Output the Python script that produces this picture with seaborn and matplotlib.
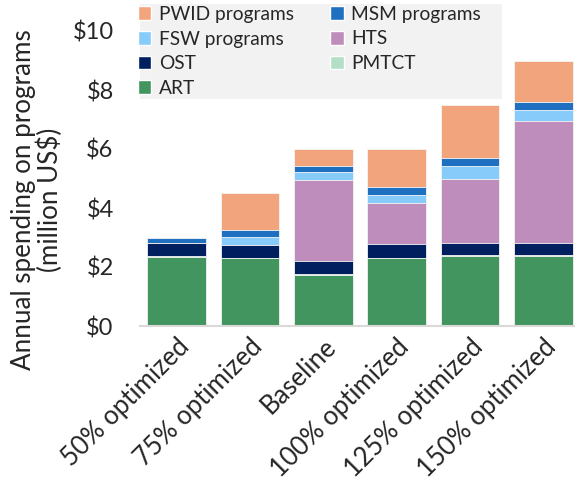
import numpy as np
import pandas as pd
import seaborn as sns
import matplotlib.pyplot as plt
from matplotlib.patches import Patch, Rectangle

scenarios = ['50% optimized', '75% optimized', 'Baseline',
             '100% optimized', '125% optimized', '150% optimized']

# spending per program, million US$ (bottom to top of the stack)
art = [2.33, 2.29, 1.72, 2.29, 2.36, 2.36]
pmtct = [0.03, 0.03, 0.03, 0.03, 0.03, 0.03]
ost = [0.44, 0.44, 0.44, 0.47, 0.44, 0.44]
hts = [0.0, 0.0, 2.77, 1.39, 2.15, 4.13]
fsw = [0.0, 0.25, 0.26, 0.27, 0.43, 0.35]
msm = [0.20, 0.24, 0.19, 0.25, 0.27, 0.27]
pwid = [0.0, 1.25, 0.60, 1.30, 1.82, 1.41]

programs = ['ART', 'PMTCT', 'OST', 'HTS', 'FSW programs', 'MSM programs', 'PWID programs']
colors = {'ART': '#43955F', 'PMTCT': '#B2DFC6', 'OST': '#001F5F', 'HTS': '#BF8DBC',
          'FSW programs': '#87CBFA', 'MSM programs': '#1F70C1', 'PWID programs': '#F2A57D'}

df = pd.DataFrame({'ART': art, 'PMTCT': pmtct, 'OST': ost, 'HTS': hts,
                   'FSW programs': fsw, 'MSM programs': msm, 'PWID programs': pwid},
                  index=scenarios)
cum = df.cumsum(axis=1)

sns.set_style('white')
plt.rcParams['font.family'] = ['Lato', 'DejaVu Sans']

W, H = 575, 487
fig = plt.figure(figsize=(W / 100, H / 100), dpi=100)
ax = fig.add_axes([140 / W, 1 - 326 / H, 435 / W, 295 / H])

# draw cumulative totals from the top layer down so each layer shows through
for prog in programs[::-1]:
    sns.barplot(x=cum.index, y=cum[prog].values, color=colors[prog], ax=ax,
                width=0.8, saturation=1, edgecolor='#f5f5f5', linewidth=0.6)

ax.set_ylim(0, 10)
ax.set_xlim(-0.5, 5.43)
ax.set_yticks(np.arange(0, 11, 2))
ax.set_yticklabels([f'${v}' for v in range(0, 11, 2)], fontsize=17)
ax.tick_params(axis='y', length=0, pad=19)
ax.tick_params(axis='x', length=0, pad=6)
for lab in ax.get_xticklabels():
    lab.set_rotation(45)
    lab.set_ha('right')
    lab.set_rotation_mode('anchor')
    lab.set_fontsize(18.5)
ax.set_xlabel('')
ax.set_ylabel('')
fig.text(37 / W, 1 - 200 / H, 'Annual spending on programs\n(million US$)',
         rotation=90, ha='center', va='center', multialignment='center',
         fontsize=18.7, linespacing=1.05)
for s in ['top', 'right', 'left']:
    ax.spines[s].set_visible(False)
ax.spines['bottom'].set_color('#d9d9d9')
ax.spines['bottom'].set_linewidth(1.5)

# legend box
fig.patches.append(Rectangle((140 / W, 1 - 99 / H), 362 / W, 95 / H,
                             transform=fig.transFigure, facecolor='#F2F2F2',
                             edgecolor='none', zorder=2))
order = ['PWID programs', 'FSW programs', 'OST', 'ART', 'MSM programs', 'HTS', 'PMTCT']
handles = [Patch(facecolor=colors[p], label=p) for p in order]
leg = fig.legend(handles=handles, ncol=2, loc='upper left',
                 bbox_to_anchor=(134 / W, 1 - 2 / H),
                 fontsize=13.8, frameon=False,
                 handlelength=0.7, handleheight=0.7, handletextpad=0.4,
                 columnspacing=1.9, labelspacing=0.4, borderpad=0.2, borderaxespad=0)
leg.set_zorder(3)

plt.savefig('out.png', dpi=100)
